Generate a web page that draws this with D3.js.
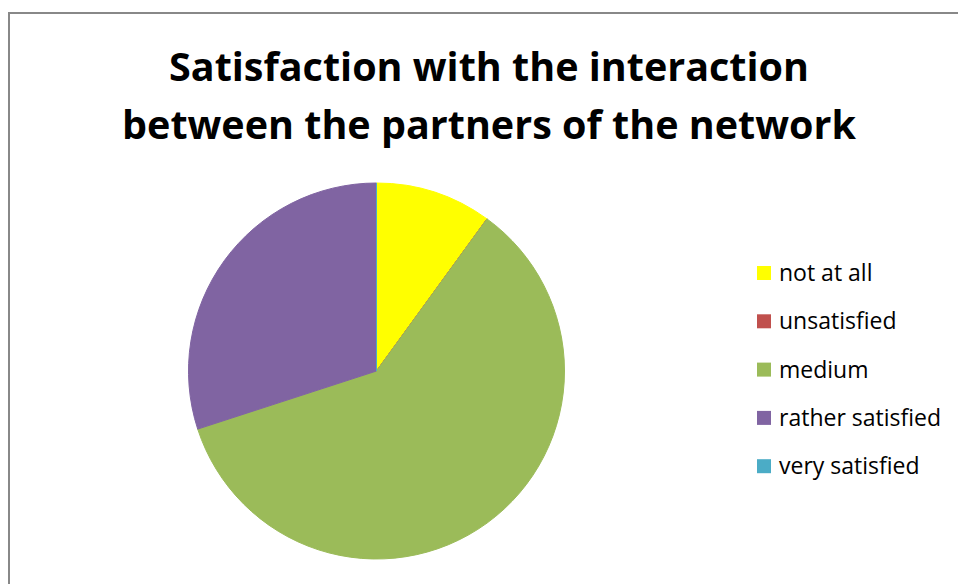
<!DOCTYPE html>
<html>
<head>
<meta charset="utf-8">
<script src="https://cdn.jsdelivr.net/npm/d3@7"></script>
<style>
  html, body { margin: 0; padding: 0; background: #fff; }
  svg { display: block; }
</style>
</head>
<body>
<svg id="chart" width="958" height="584"></svg>
<script>
// Survey answers: satisfaction with the interaction between network partners
const categories = ["not at all", "unsatisfied", "medium", "rather satisfied", "very satisfied"];
const values = [1, 0, 6, 3, 0];
const colors = ["#FFFF00", "#C0504D", "#9BBB59", "#8064A2", "#4BACC6"];
const titleLines = ["Satisfaction with the interaction", "between the partners of the network"];

const svg = d3.select("#chart");
const W = 958, H = 584;
const font = "Open Sans, 'Noto Sans', sans-serif";

// chart area frame
svg.append("rect")
  .attr("x", 9).attr("y", 13)
  .attr("width", W + 10).attr("height", H + 10)
  .attr("fill", "#fff")
  .attr("stroke", "#888").attr("stroke-width", 2);

// title
svg.append("g").selectAll("text")
  .data(titleLines)
  .join("text")
  .attr("x", 489)
  .attr("y", (d, i) => 81 + i * 58)
  .attr("text-anchor", "middle")
  .attr("font-family", font)
  .attr("font-weight", "bold")
  .attr("font-size", 39.5)
  .attr("fill", "#000")
  .text(d => d);

// pie
const cx = 376.5, cy = 371, r = 188;
const pie = d3.pie().sort(null).value(d => d.value).startAngle(0).endAngle(2 * Math.PI);
const arc = d3.arc().innerRadius(0).outerRadius(r);
const data = categories.map((c, i) => ({ name: c, value: values[i], color: colors[i] }));

svg.append("g")
  .attr("transform", `translate(${cx},${cy})`)
  .selectAll("path")
  .data(pie(data))
  .join("path")
  .attr("d", arc)
  .attr("fill", d => d.data.color)
  .attr("stroke", d => d.data.color)
  .attr("stroke-width", 1);

// legend
const legend = svg.append("g").attr("transform", "translate(757,273)");
const rows = legend.selectAll("g")
  .data(data)
  .join("g")
  .attr("transform", (d, i) => `translate(0,${i * 48.3})`);
rows.append("rect")
  .attr("x", 0).attr("y", -7)
  .attr("width", 14).attr("height", 14)
  .attr("fill", d => d.color);
rows.append("text")
  .attr("x", 22).attr("y", 0)
  .attr("dy", "0.35em")
  .attr("font-family", font)
  .attr("font-size", 23)
  .attr("fill", "#000")
  .text(d => d.name);
</script>
</body>
</html>
